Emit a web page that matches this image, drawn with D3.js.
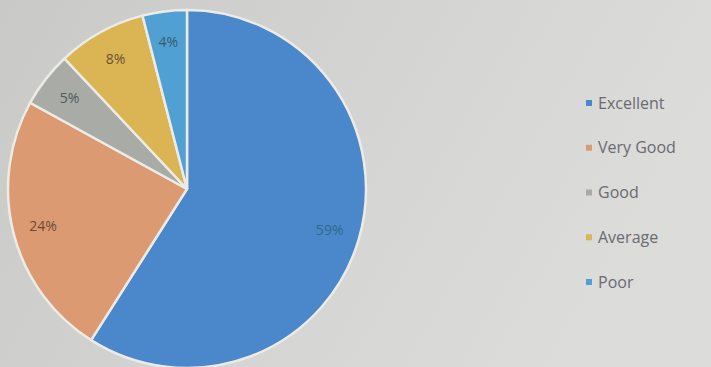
<!DOCTYPE html>
<html><head><meta charset="utf-8">
<script src="https://cdn.jsdelivr.net/npm/d3@7"></script>
<style>html,body{margin:0;padding:0;background:#d2d2d0;overflow:hidden}</style>
</head><body>
<svg id="c" width="711" height="367"></svg>
<script>
const categories = ["Excellent", "Very Good", "Good", "Average", "Poor"];
const values = [59, 24, 5, 8, 4];
const labels = ["59%", "24%", "5%", "8%", "4%"];
const colors = ["#4a88cb", "#dc9a72", "#a9aba6", "#dbb553", "#50a0d4"];
const labelColors = ["#2f6a88", "#6a4a36", "#4d5a5a", "#6a5234", "#3a5a6a"];

const svg = d3.select("#c");
const defs = svg.append("defs");
const g = defs.append("linearGradient").attr("id","bg").attr("x1","0").attr("x2","1").attr("y1","0").attr("y2","0.3");
g.append("stop").attr("offset","0").attr("stop-color","#c9c9c7");
g.append("stop").attr("offset","0.6").attr("stop-color","#d5d5d3");
g.append("stop").attr("offset","1").attr("stop-color","#dcdcda");
svg.append("rect").attr("width",711).attr("height",367).attr("fill","url(#bg)");

const cx = 187, cy = 189, r = 179;
const pie = d3.pie().sort(null).value(d => d)(values);
const arc = d3.arc().innerRadius(0).outerRadius(r);
const labelArc = d3.arc().innerRadius(r*0.83).outerRadius(r*0.83);
const pg = svg.append("g").attr("transform", `translate(${cx},${cy})`);
pg.selectAll("path").data(pie).join("path")
  .attr("d", arc).attr("fill", (d,i) => colors[i])
  .attr("stroke", "#ecebe6").attr("stroke-width", 2.5);
pg.selectAll("text").data(pie).join("text")
  .attr("transform", d => `translate(${labelArc.centroid(d)})`)
  .attr("text-anchor","middle").attr("dy","0.35em")
  .attr("font-family","'Open Sans', sans-serif").attr("font-size",14)
  .attr("fill", (d,i) => labelColors[i])
  .text((d,i) => labels[i]);

const y = d3.scalePoint().domain(categories).range([103, 282]);
const lg = svg.append("g");
const items = lg.selectAll("g").data(categories).join("g")
  .attr("transform", d => `translate(589,${y(d)})`);
items.append("rect").attr("x",-3).attr("y",-3).attr("width",6).attr("height",6)
  .attr("fill", (d,i) => colors[i]);
items.append("text").attr("x",9).attr("dy","0.35em")
  .attr("font-family","'Open Sans', sans-serif").attr("font-size",16)
  .attr("fill","#6a6a70").text(d => d);
</script>
</body></html>
